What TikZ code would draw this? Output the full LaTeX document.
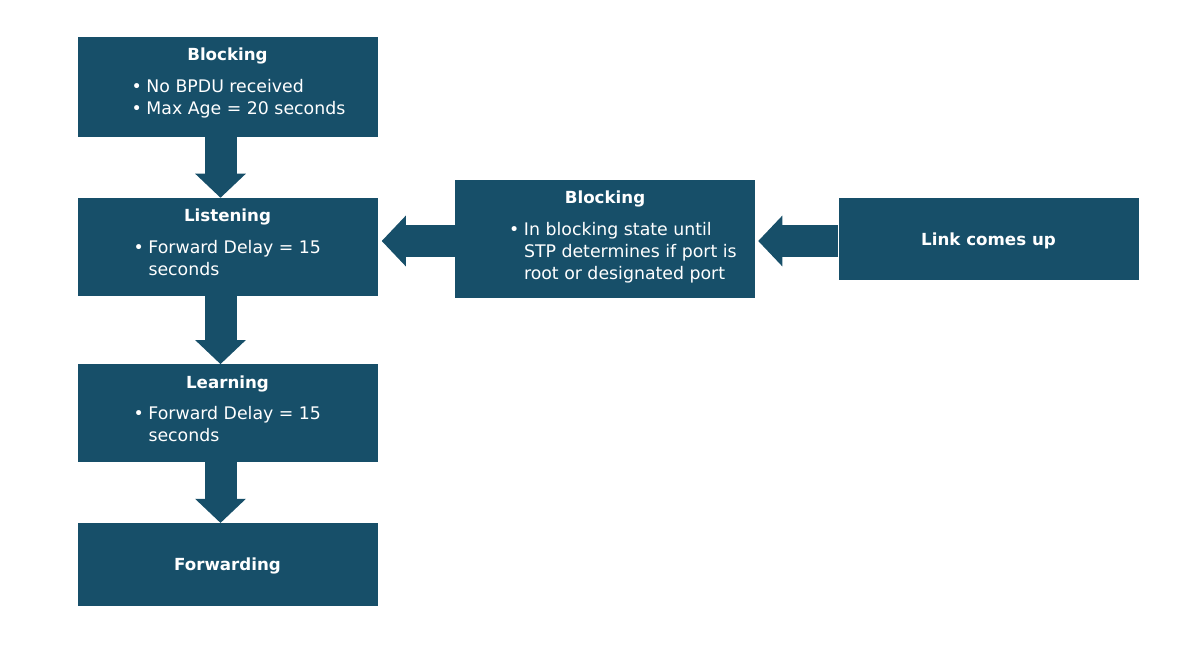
\documentclass[tikz,border=0pt]{standalone}
\usepackage{fontspec}
\setmainfont{DejaVu Sans}
\usepackage{xcolor}
\usetikzlibrary{arrows.meta,positioning}

\definecolor{stpblue}{RGB}{23,79,105}
\newcommand{\bul}{\makebox[11.25pt][l]{\textbullet}}
\newcommand{\ind}{\hspace*{11.25pt}}
\newcommand{\lst}[1]{\begin{tabular}[t]{@{}l@{}}#1\end{tabular}}

\begin{document}
\begin{tikzpicture}[x=0.75pt,y=-0.75pt,
    state/.style={fill=stpblue,minimum width=225pt,inner sep=0pt,text=white,text depth=0pt,
      font=\fontsize{12.5}{15}\selectfont\bfseries},
    head/.style={text=white,inner sep=0pt,anchor=base,font=\fontsize{12.5}{15}\selectfont\bfseries},
    info/.style={text=white,inner sep=0pt,anchor=base west,font=\fontsize{13}{16.5}\selectfont},
    flow/.style={stpblue,line width=24pt,-{Triangle[width=38pt,length=18pt,line width=0pt]}}]
  \useasboundingbox (0,0) rectangle (1186,653);

  \node[state,minimum height=75pt] (blk) at (227.5,87) {};
  \node[state,minimum height=73.5pt] (lis) at (227.5,247) {};
  \node[state,minimum height=73pt] (lrn) at (227.5,413) {};
  \node[state,minimum height=62pt] (fwd) at (227.5,564.5) {Forwarding};
  \node[state,minimum height=88.5pt] (mid) at (605,239) {};
  \node[state,minimum height=61.5pt] (lnk) at (988.5,239) {Link comes up};

  % titles and bullet lists
  \node[head] (blkH) at ([yshift=-18pt]blk.north) {Blocking};
  \node[info] (blkI) at ([shift={(54,56)}]blk.north west) {\lst{\bul No BPDU received\\\bul Max Age = 20 seconds}};
  \node[head] (lisH) at ([yshift=-18pt]lis.north) {Listening};
  \node[info] (lisI) at ([shift={(56,56)}]lis.north west) {\lst{\bul Forward Delay = 15\\\ind seconds}};
  \node[head] (lrnH) at ([yshift=-18pt]lrn.north) {Learning};
  \node[info] (lrnI) at ([shift={(56,55)}]lrn.north west) {\lst{\bul Forward Delay = 15\\\ind seconds}};
  \node[head] (midH) at ([yshift=-18pt]mid.north) {Blocking};
  \node[info] (midI) at ([shift={(54,56)}]mid.north west) {\lst{\bul In blocking state until\\\ind STP determines if port is\\\ind root or designated port}};

  % arrows
  \coordinate (blkOut) at ([xshift=-5.25pt]blk.south);
  \coordinate (lisOut) at ([xshift=-5.25pt]lis.south);
  \coordinate (lrnOut) at ([xshift=-5.25pt]lrn.south);
  \coordinate (midIn) at ([yshift=-1.5pt]mid.west);
  \coordinate (lnkIn) at ([yshift=-1.5pt]lnk.west);
  \draw[flow] (blkOut) -- (blkOut |- lis.north);
  \draw[flow] (lisOut) -- (lisOut |- lrn.north);
  \draw[flow] (lrnOut) -- (lrnOut |- fwd.north);
  \draw[flow,shorten >=3pt] (midIn) -- (midIn -| lis.east);
  \draw[flow,shorten >=2.25pt] (lnkIn) -- (lnkIn -| mid.east);
\end{tikzpicture}
\end{document}
